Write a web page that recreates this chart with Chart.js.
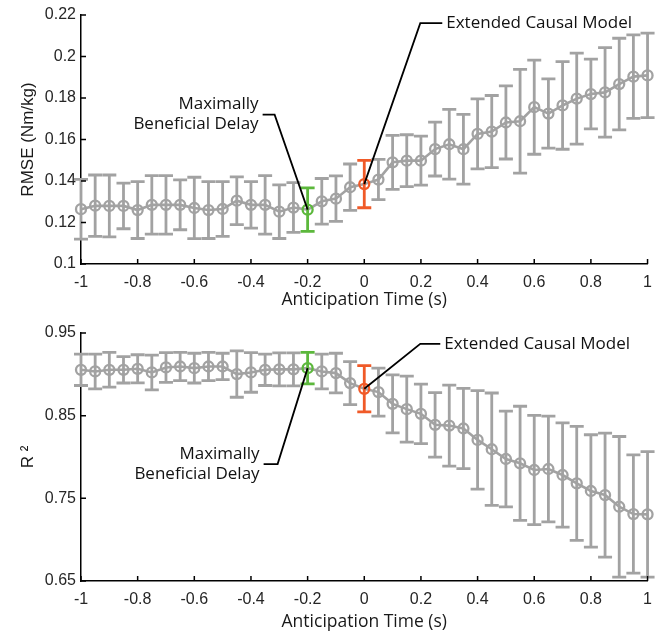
<!DOCTYPE html>
<html>
<head>
<meta charset="utf-8">
<script src="https://cdn.jsdelivr.net/npm/chart.js@4.4.1/dist/chart.umd.min.js"></script>
<style>
    html, body { margin: 0; padding: 0; background: #fff; }
    #wrap { position: relative; width: 661px; height: 633px; }
    .panel { position: absolute; left: 0; width: 661px; }
    #haut { top: 0; height: 316px; }
    #bas { top: 316px; height: 317px; }
</style>
</head>
<body>
<div id="wrap">
    <div class="panel" id="haut"><canvas id="rmse"></canvas></div>
    <div class="panel" id="bas"><canvas id="r2"></canvas></div>
</div>
<script>
// anticipation time (s), one point every 50 ms
const anticipation = [
    -1, -0.95, -0.9, -0.85, -0.8, -0.75, -0.7, -0.65, -0.6, -0.55,
    -0.5, -0.45, -0.4, -0.35, -0.3, -0.25, -0.2, -0.15, -0.1, -0.05,
    0, 0.05, 0.1, 0.15, 0.2, 0.25, 0.3, 0.35, 0.4, 0.45,
    0.5, 0.55, 0.6, 0.65, 0.7, 0.75, 0.8, 0.85, 0.9, 0.95, 1,
];

const rmseMean = [
    0.1264, 0.1281, 0.128, 0.128, 0.126, 0.1285, 0.1285, 0.1285, 0.127, 0.126,
    0.1265, 0.1305, 0.1285, 0.1285, 0.1252, 0.1272, 0.1262, 0.1302, 0.1315, 0.137,
    0.1385, 0.1407, 0.149, 0.1498, 0.1498, 0.1554, 0.1577, 0.1553, 0.1627, 0.1638,
    0.1682, 0.1688, 0.1756, 0.1725, 0.1764, 0.1797, 0.1819, 0.1827, 0.1867, 0.1903, 0.1909,
];
const rmseSd = [
    0.0144, 0.0148, 0.0149, 0.011, 0.0137, 0.0141, 0.0141, 0.012, 0.0148, 0.0137,
    0.0132, 0.0115, 0.0112, 0.0141, 0.0129, 0.012, 0.0105, 0.011, 0.011, 0.0112,
    0.0114, 0.0097, 0.013, 0.0125, 0.0118, 0.013, 0.0168, 0.0168, 0.0169, 0.0174,
    0.0176, 0.025, 0.0227, 0.0167, 0.0211, 0.0219, 0.0168, 0.0216, 0.0221, 0.0201, 0.0204,
];

const r2Mean = [
    0.9055, 0.9035, 0.9055, 0.9055, 0.9067, 0.9023, 0.9083, 0.9095, 0.9075, 0.9095,
    0.9095, 0.9003, 0.9023, 0.9055, 0.906, 0.906, 0.9075, 0.9035, 0.9015, 0.8894,
    0.8825, 0.8785, 0.8643, 0.8579, 0.8522, 0.8389, 0.838, 0.8345, 0.8207, 0.8094,
    0.7976, 0.7924, 0.7843, 0.7855, 0.7782, 0.7681, 0.7589, 0.754, 0.7398, 0.731, 0.7306,
];
const r2Sd = [
    0.019, 0.021, 0.021, 0.016, 0.017, 0.021, 0.018, 0.017, 0.018, 0.017,
    0.016, 0.028, 0.024, 0.019, 0.02, 0.02, 0.019, 0.021, 0.024, 0.026,
    0.028, 0.029, 0.035, 0.04, 0.036, 0.039, 0.049, 0.0485, 0.0596, 0.068,
    0.058, 0.069, 0.066, 0.064, 0.063, 0.069, 0.068, 0.075, 0.085, 0.0715, 0.076,
];

const xTicks = [-1, -0.8, -0.6, -0.4, -0.2, 0, 0.2, 0.4, 0.6, 0.8, 1];
const rmseTicks = [0.1, 0.12, 0.14, 0.16, 0.18, 0.2, 0.22];
const r2Ticks = [0.65, 0.75, 0.85, 0.95];

const delayX = -0.2;   // maximally beneficial delay
const causalX = 0;     // extended causal model

const GRIS = '#a2a2a2';
const VERT = '#5cb83c';
const ROUGE = '#f05a28';
const couleur = (x) => (x === delayX ? VERT : x === causalX ? ROUGE : GRIS);

// barres d'erreur (±1 écart-type), grises sous la courbe, colorées par-dessus
function tracerBarres(chart, sd, colorees) {
    const { ctx, scales: { x, y } } = chart;
    ctx.save();
    ctx.lineWidth = 2.8;
    chart.data.datasets[0].data.forEach((p, i) => {
        const c = couleur(p.x);
        if ((c !== GRIS) !== colorees) return;
        const px = x.getPixelForValue(p.x);
        const hi = y.getPixelForValue(p.y + sd[i]);
        const lo = y.getPixelForValue(p.y - sd[i]);
        ctx.strokeStyle = c;
        ctx.beginPath();
        ctx.moveTo(px, hi); ctx.lineTo(px, lo);
        ctx.moveTo(px - 7, hi); ctx.lineTo(px + 7, hi);
        ctx.moveTo(px - 7, lo); ctx.lineTo(px + 7, lo);
        ctx.stroke();
    });
    ctx.restore();
}

const errorBars = {
    id: 'errorBars',
    beforeDatasetsDraw(chart, args, opts) { tracerBarres(chart, opts.sd, false); },
    afterDatasetsDraw(chart, args, opts) { tracerBarres(chart, opts.sd, true); },
};

// petites graduations vers l'intérieur, comme MATLAB
const innerTicks = {
    id: 'innerTicks',
    afterDraw(chart) {
        const { ctx, chartArea: a, scales: { x, y } } = chart;
        ctx.save();
        ctx.strokeStyle = '#000';
        ctx.lineWidth = 1.5;
        ctx.beginPath();
        x.ticks.forEach((t) => {
            const px = x.getPixelForValue(t.value);
            ctx.moveTo(px, a.bottom); ctx.lineTo(px, a.bottom - 5);
        });
        y.ticks.forEach((t) => {
            const py = y.getPixelForValue(t.value);
            ctx.moveTo(a.left, py); ctx.lineTo(a.left + 5, py);
        });
        ctx.stroke();
        ctx.restore();
    },
};

// étiquettes avec trait de rappel vers un point
const callouts = {
    id: 'callouts',
    afterDraw(chart, args, opts) {
        const { ctx, scales: { x, y } } = chart;
        const pts = chart.data.datasets[0].data;
        ctx.save();
        ctx.strokeStyle = '#000';
        ctx.fillStyle = '#111';
        ctx.lineWidth = 1.8;
        ctx.font = '17px "Open Sans"';
        ctx.textBaseline = 'middle';
        opts.items.forEach((c) => {
            const p = pts.find((d) => d.x === c.at);
            const px = x.getPixelForValue(p.x);
            const py = y.getPixelForValue(p.y);
            const ex = px + c.dx, ey = py + c.dy;
            const dir = c.side === 'left' ? -1 : 1;
            ctx.beginPath();
            ctx.moveTo(px, py);
            ctx.lineTo(ex, ey);
            ctx.lineTo(ex + dir * c.arm, ey);
            ctx.stroke();
            ctx.textAlign = c.side === 'left' ? 'right' : 'left';
            const tx = ex + dir * (c.arm + 4);
            c.text.forEach((ligne, k) => {
                ctx.fillText(ligne, tx, ey + (k - (c.text.length - 1) / 2) * 20);
            });
        });
        ctx.restore();
    },
};

function panneau(id, moy, sd, yTicks, yTitre, padHaut, titrePadBas, items) {
    const data = anticipation.map((x, i) => ({ x, y: moy[i] }));
    const fixerTicks = (liste) => (s) => { s.ticks = liste.map((v) => ({ value: v })); };
    return new Chart(document.getElementById(id), {
        type: 'line',
        data: {
            datasets: [{
                data,
                borderColor: GRIS,
                borderWidth: 2.6,
                tension: 0,
                clip: false,
                pointRadius: 5,
                pointBorderWidth: 2.3,
                pointBackgroundColor: 'rgba(0,0,0,0)',
                pointBorderColor: data.map((p) => couleur(p.x)),
            }],
        },
        options: {
            responsive: true,
            maintainAspectRatio: false,
            animation: false,
            events: [],
            layout: { padding: { top: padHaut, right: 12, left: 0, bottom: 0 } },
            scales: {
                x: {
                    type: 'linear',
                    min: -1,
                    max: 1,
                    afterBuildTicks: fixerTicks(xTicks),
                    afterFit: (s) => { s.height = 52; },
                    grid: { display: false, drawTicks: false },
                    border: { display: true, color: '#000', width: 1.5 },
                    ticks: {
                        padding: 9,
                        color: '#262626',
                        font: { family: '"Liberation Sans", Arial', size: 16 },
                        callback: (v) => String(v),
                    },
                    title: {
                        display: true,
                        text: 'Anticipation Time (s)',
                        color: '#1a1a1a',
                        font: { family: '"Open Sans"', size: 17.5 },
                        padding: { top: 0, bottom: titrePadBas },
                    },
                },
                y: {
                    min: yTicks[0],
                    max: yTicks[yTicks.length - 1],
                    afterBuildTicks: fixerTicks(yTicks),
                    afterFit: (s) => { s.width = 81; },
                    grid: { display: false, drawTicks: false },
                    border: { display: true, color: '#000', width: 1.5 },
                    ticks: {
                        padding: 5,
                        color: '#262626',
                        font: { family: '"Liberation Sans", Arial', size: 16 },
                        callback: (v) => String(v),
                    },
                    title: {
                        display: true,
                        text: yTitre,
                        color: '#1a1a1a',
                        font: { family: '"Liberation Sans", Arial', size: 17 },
                        padding: { top: 18, bottom: 0 },
                    },
                },
            },
            plugins: {
                legend: { display: false },
                tooltip: { enabled: false },
                errorBars: { sd },
                callouts: { items },
            },
        },
        plugins: [errorBars, innerTicks, callouts],
    });
}

panneau('rmse', rmseMean, rmseSd, rmseTicks, 'RMSE (Nm/kg)', 15, 5, [
    { at: delayX, dx: -33, dy: -95, arm: 12, side: 'left', text: ['Maximally', 'Beneficial Delay'] },
    { at: causalX, dx: 56, dy: -161, arm: 22, side: 'right', text: ['Extended Causal Model'] },
]);

panneau('r2', r2Mean, r2Sd, r2Ticks, 'R ²', 17, 0, [
    { at: causalX, dx: 56, dy: -45, arm: 20, side: 'right', text: ['Extended Causal Model'] },
    { at: delayX, dx: -30, dy: 96, arm: 14, side: 'left', text: ['Maximally', 'Beneficial Delay'] },
]);
</script>
</body>
</html>
